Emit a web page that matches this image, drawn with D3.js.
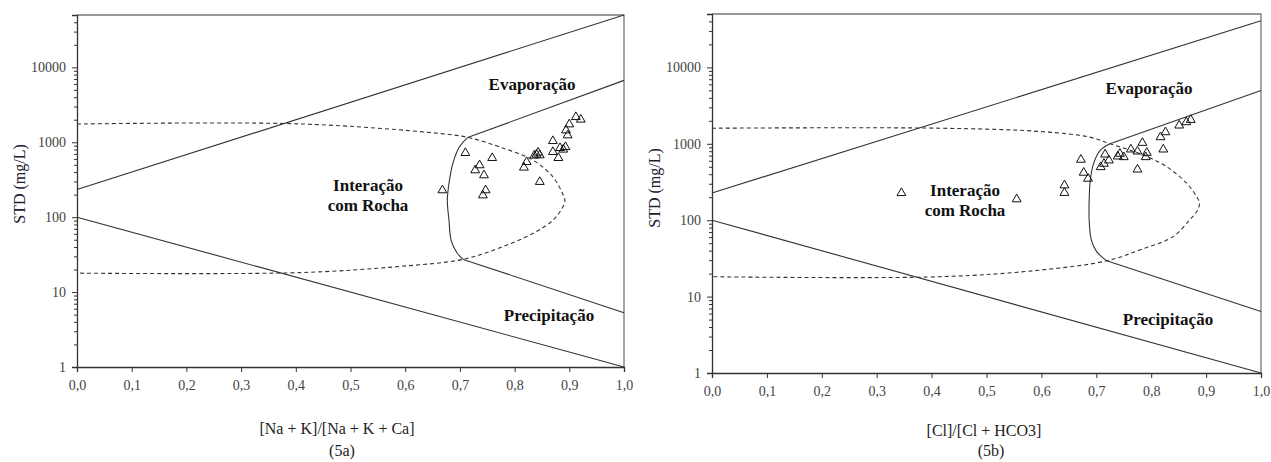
<!DOCTYPE html>
<html>
<head>
<meta charset="utf-8">
<script src="https://cdn.jsdelivr.net/npm/d3@7"></script>
<style>
  body { margin: 0; background: #fff; }
</style>
</head>
<body>
<div class="gibbs"></div>
<script>
var serif = "Liberation Serif";

// tick values shared by both diagrams
var xTicks = [0, 0.1, 0.2, 0.3, 0.4, 0.5, 0.6, 0.7, 0.8, 0.9, 1.0];
var yTicks = [1, 10, 100, 1000, 10000];
var yMax = 50000;

// (5a) samples: [Na+K]/[Na+K+Ca] vs STD
var pointsA = [[0.668,229],[0.710,720],[0.759,617],[0.736,494],[0.728,423],[0.744,363],
  [0.747,229],[0.742,196],[0.822,546],[0.817,460],[0.846,296],[0.840,686],[0.843,729],
  [0.836,665],[0.846,671],[0.870,1040],[0.870,743],[0.883,839],[0.889,800],[0.893,865],
  [0.880,618],[0.894,1445],[0.897,1240],[0.900,1738],[0.912,2175],[0.921,2010]];

// (5b) samples: [Cl]/[Cl+HCO3] vs STD
var pointsB = [[0.345,227],[0.555,188],[0.642,286],[0.642,228],[0.672,620],[0.677,419],
  [0.685,350],[0.716,726],[0.723,607],[0.714,549],[0.708,496],[0.739,684],[0.743,741],
  [0.750,670],[0.763,844],[0.775,794],[0.784,1031],[0.792,764],[0.790,670],[0.775,461],
  [0.817,1222],[0.826,1420],[0.822,844],[0.851,1738],[0.864,1919],[0.872,2060]];

// boundary lines of the Gibbs diagram
var linesA = [[[0,234],[1,50000]], [[0.714,1156],[1,6700]], [[0,100],[1,1]], [[0.706,27.3],[1,5.3]]];
var linesB = [[[0,227],[1,40700]], [[0.725,1000],[1,5000]], [[0,100],[1,1]], [[0.719,29.4],[1,6.4]]];

// dashed envelope
var dashA = [[0,1750],[0.407,1760],[0.663,1310],[0.715,1160],[0.773,865],[0.834,575],[0.870,345],
  [0.888,204],[0.892,165],[0.885,125],[0.870,91],[0.834,61],[0.773,39],[0.705,27.3],[0.590,22],
  [0.407,18.2],[0,17.9]];
var dashB = [[0,1600],[0.415,1600],[0.597,1450],[0.688,1222],[0.725,1000],[0.780,741],[0.829,497],
  [0.865,301],[0.883,202],[0.888,165],[0.883,130],[0.870,101],[0.840,61],[0.780,41],[0.719,29.4],
  [0.597,22.2],[0.415,18.2],[0,18.2]];

// solid curve joining the two vertices
var curveA = [[0.714,1156],[0.699,865],[0.687,520],[0.680,281],[0.677,169],[0.680,91],[0.684,49],[0.694,34],[0.706,27.3]];
var curveB = [[0.725,1000],[0.707,818],[0.695,550],[0.689,333],[0.687,182],[0.687,100],[0.691,55],[0.701,38.5],[0.719,29.4]];

var svg = d3.select(".gibbs")
  .append("svg")
    .attr("width", 1271)
    .attr("height", 462)
    .attr("font-family", serif);

function drawPanel(cfg) {
  var x = d3.scaleLinear().domain([0, 1]).range([cfg.left, cfg.right]);
  var y = d3.scaleLog().domain([1, yMax]).range([cfg.bottom, cfg.top]);
  var g = svg.append("g");

  // frame: top and right edges
  g.append("path")
    .attr("d", "M" + x(0) + "," + y(yMax) + "H" + x(1) + "V" + y(1))
    .attr("fill", "none")
    .attr("stroke", "#777")
    .attr("stroke-width", 1.3);

  var line = d3.line()
    .x(function(d) { return x(d[0]); })
    .y(function(d) { return y(d[1]); });

  cfg.lines.forEach(function(l) {
    g.append("path").attr("d", line(l))
      .attr("fill", "none").attr("stroke", "#333").attr("stroke-width", 1.1);
  });

  g.append("path").attr("d", line.curve(d3.curveCatmullRom)(cfg.dash))
    .attr("fill", "none").attr("stroke", "#333").attr("stroke-width", 1.1)
    .attr("stroke-dasharray", "4,3");

  g.append("path").attr("d", line.curve(d3.curveCatmullRom)(cfg.curve))
    .attr("fill", "none").attr("stroke", "#333").attr("stroke-width", 1.1);

  // samples
  g.selectAll(".pt")
    .data(cfg.points)
    .enter().append("path")
      .attr("class", "pt")
      .attr("d", d3.symbol().type(d3.symbolTriangle).size(34))
      .attr("transform", function(d) { return "translate(" + x(d[0]) + "," + y(d[1]) + ")"; })
      .attr("fill", "none")
      .attr("stroke", "#111")
      .attr("stroke-width", 1);

  // y axis with minor log ticks
  var minor = [];
  for (var p = 1; p <= 10000; p *= 10)
    for (var k = 2; k <= 9; k++) if (p * k <= yMax) minor.push(p * k);

  var yAxis = d3.axisLeft(y).tickValues(yTicks).tickFormat(d3.format("d")).tickSizeOuter(0).tickSize(5).tickPadding(6);
  var ya = g.append("g")
    .attr("transform", "translate(" + x(0) + ",0)")
    .call(yAxis);
  ya.attr("font-family", serif).attr("font-size", 14);
  ya.select(".domain").attr("stroke", "#333").attr("stroke-width", 1.3);
  ya.selectAll("text").attr("fill", "#444");

  g.append("g")
    .attr("transform", "translate(" + x(0) + ",0)")
    .call(d3.axisLeft(y).tickValues(minor).tickSize(3).tickFormat(""))
    .select(".domain").remove();

  var xAxis = d3.axisBottom(x).tickValues(xTicks)
    .tickFormat(function(d) { return d3.format(".1f")(d).replace(".", ","); })
    .tickSizeOuter(0).tickSize(5).tickPadding(8);
  var xa = g.append("g")
    .attr("transform", "translate(0," + y(1) + ")")
    .call(xAxis);
  xa.attr("font-family", serif).attr("font-size", 14);
  xa.select(".domain").attr("stroke", "#333").attr("stroke-width", 1.3);
  xa.selectAll("text").attr("fill", "#444");

  g.selectAll(".tick line").attr("stroke", "#333");

  // region labels
  cfg.labels.forEach(function(t) {
    g.append("text")
      .attr("x", t[1]).attr("y", t[2])
      .attr("text-anchor", "middle")
      .attr("font-size", 17)
      .attr("font-weight", "bold")
      .attr("fill", "#111")
      .text(t[0]);
  });

  // axis titles
  g.append("text")
    .attr("transform", "translate(" + cfg.yTitle[0] + "," + cfg.yTitle[1] + ") rotate(-90)")
    .attr("text-anchor", "middle")
    .attr("font-size", 16)
    .attr("fill", "#1d2030")
    .text("STD (mg/L)");

  g.append("text")
    .attr("x", cfg.xTitle[0]).attr("y", cfg.xTitle[1])
    .attr("text-anchor", "middle")
    .attr("font-size", 16)
    .attr("fill", "#222")
    .text(cfg.xLabel);

  g.append("text")
    .attr("x", cfg.tag[0]).attr("y", cfg.tag[1])
    .attr("text-anchor", "middle")
    .attr("font-size", 16)
    .attr("fill", "#222")
    .text(cfg.tagText);
}

drawPanel({
  left: 77, right: 624, top: 15, bottom: 367,
  points: pointsA, lines: linesA, dash: dashA, curve: curveA,
  labels: [["Evaporação", 532, 90], ["Interação", 368, 191], ["com Rocha", 368, 211], ["Precipitação", 549, 321]],
  yTitle: [25, 184], xTitle: [337, 434], xLabel: "[Na + K]/[Na + K + Ca]",
  tag: [342, 456], tagText: "(5a)"
});

drawPanel({
  left: 712, right: 1261, top: 14, bottom: 373,
  points: pointsB, lines: linesB, dash: dashB, curve: curveB,
  labels: [["Evaporação", 1149, 94], ["Interação", 965, 196], ["com Rocha", 965, 216], ["Precipitação", 1168, 325]],
  yTitle: [660, 188], xTitle: [984, 436], xLabel: "[Cl]/[Cl + HCO3]",
  tag: [991, 456], tagText: "(5b)"
});
</script>
</body>
</html>
